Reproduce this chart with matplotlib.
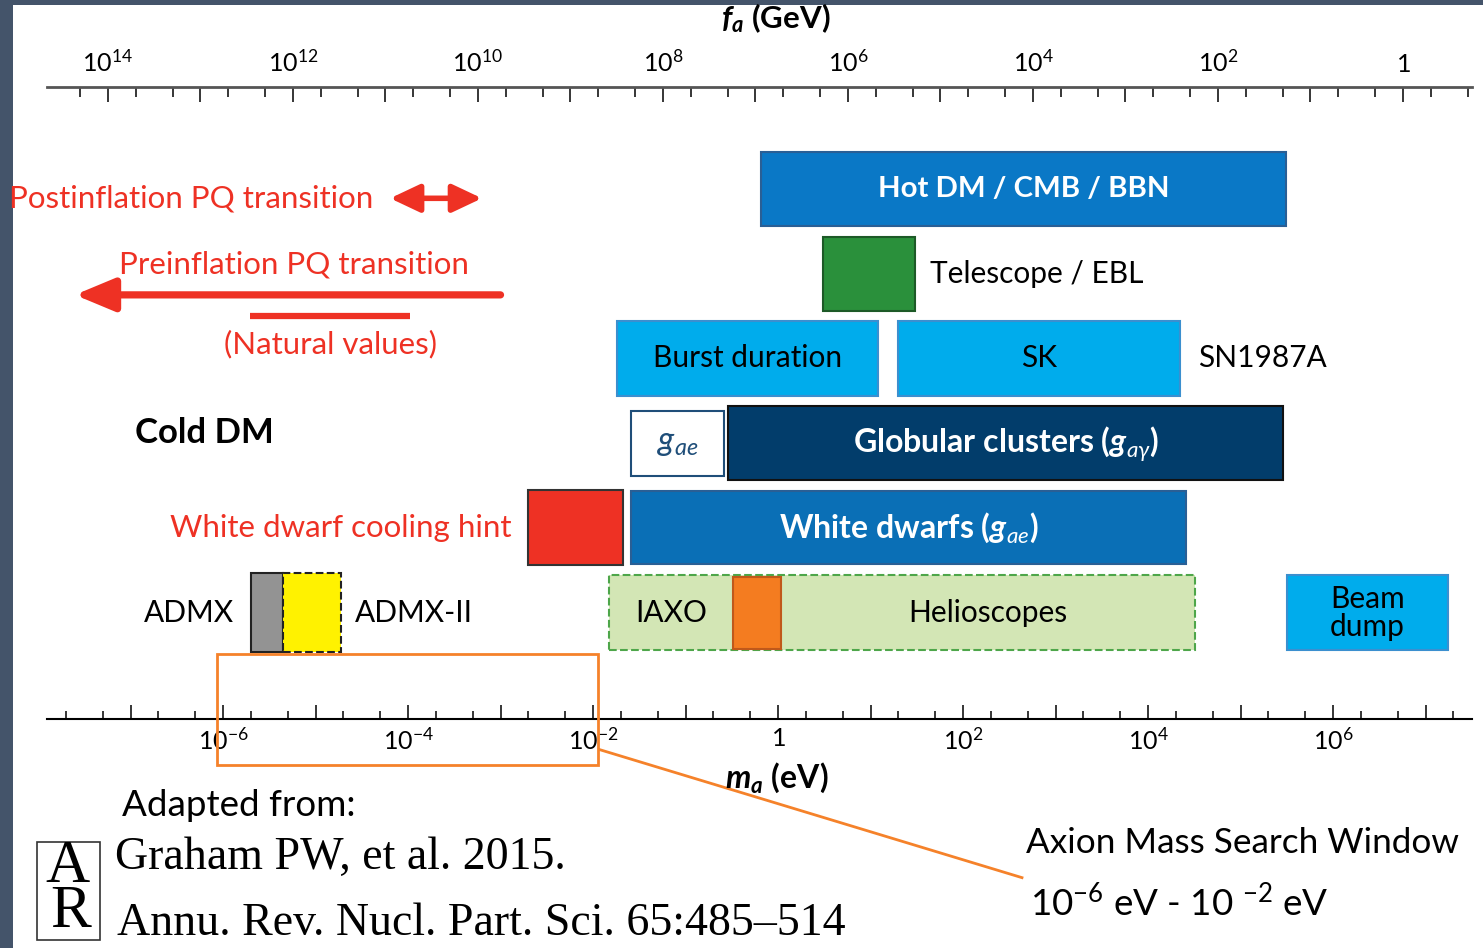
import numpy as np
import matplotlib.pyplot as plt
from matplotlib.patches import Rectangle, FancyArrowPatch
from matplotlib.ticker import (LogLocator, FixedLocator, FuncFormatter,
                               NullFormatter)

W, H = 1483, 948
FA_CONST = 5.7e6  # f_a [GeV] * m_a [eV]

plt.rcParams['font.family'] = ['Lato', 'DejaVu Sans']
plt.rcParams['mathtext.fontset'] = 'custom'
plt.rcParams['mathtext.rm'] = 'Lato'
plt.rcParams['mathtext.it'] = 'Lato:italic'
plt.rcParams['mathtext.bf'] = 'Lato:bold'
plt.rcParams['mathtext.bfit'] = 'Lato:bold:italic'

# constraint bands (axion mass in eV), row 0 = bottom
names = ['hot', 'telescope', 'burst', 'sk', 'gae', 'gc', 'wdhint', 'wd',
         'admx', 'admx2', 'helio', 'iaxo', 'beam']
m_lo = [0.65, 3.1, 1.8e-2, 20, 2.6e-2, 0.29, 2.0e-3, 2.6e-2,
        2.0e-6, 4.4e-6, 1.5e-2, 0.33, 3.2e5]
m_hi = [3.1e5, 30, 12, 2.2e4, 0.26, 2.9e5, 2.1e-2, 2.6e4,
        4.4e-6, 1.9e-5, 3.2e4, 1.08, 1.75e7]
rows = [5, 4, 3, 3, 2, 2, 1, 1, 0, 0, 0, 0, 0]

# PQ transition arrows / line (eV)
post_pq = [6.4e-5, 6.3e-4]
pre_pq = [1.0e-3, 2.5e-8]
natural = [1.95e-6, 1.05e-4]
search_window = [8.6e-7, 1.13e-2]

# top axis decades (GeV)
fa_decades = 10.0 ** np.arange(0, 15)

style = {
    'hot':       dict(fc='#0a78c6', ec='#2a5f95', h=0.874, ls='-'),
    'telescope': dict(fc='#2a903b', ec='#1d5a27', h=0.874, ls='-'),
    'burst':     dict(fc='#00acec', ec='#3b8fcf', h=0.885, ls='-'),
    'sk':        dict(fc='#00acec', ec='#3b8fcf', h=0.885, ls='-'),
    'gae':       dict(fc='white', ec='#1f4e79', h=0.767, ls='-'),
    'gc':        dict(fc='#023d6b', ec='#111111', h=0.874, ls='-'),
    'wdhint':    dict(fc='#ee3124', ec='#333333', h=0.885, ls='-'),
    'wd':        dict(fc='#0a6fb6', ec='#2a5f95', h=0.862, ls='-'),
    'admx':      dict(fc='#939393', ec='#222222', h=0.933, ls='-'),
    'admx2':     dict(fc='#fff200', ec='#222222', h=0.933, ls='--'),
    'helio':     dict(fc='#d3e6b5', ec='#4ea64a', h=0.885, ls='--'),
    'iaxo':      dict(fc='#f47c20', ec='#c0581a', h=0.85, ls='-'),
    'beam':      dict(fc='#00acec', ec='#3b8fcf', h=0.885, ls='-'),
}

RED = '#ee3124'
ORANGE = '#f5822a'


def fx(x):
    return x / W


def fy(y):
    return 1 - y / H


def m_to_f(m):
    m = np.asarray(m, dtype=float)
    with np.errstate(divide='ignore', invalid='ignore'):
        return FA_CONST / m


fig = plt.figure(figsize=(W / 100, H / 100), dpi=100, facecolor='#44546a')
fig.add_artist(Rectangle((fx(13), 0), 1, fy(5), transform=fig.transFigure,
                         facecolor='white', edgecolor='none', zorder=-5))

ax = fig.add_axes([fx(47), fy(719), fx(1472) - fx(47), fy(87) - fy(719)])
ax.set_facecolor('none')
ax.set_xscale('log')
ax.set_xlim(1.25e-8, 3.18e7)
ax.set_ylim(-1.257, 6.204)
for s in ['left', 'right', 'top']:
    ax.spines[s].set_visible(False)
ax.spines['bottom'].set_linewidth(1.5)
ax.set_yticks([])

dec_fmt = FuncFormatter(lambda v, p: ('$1$' if abs(np.log10(v)) < 0.01 else
                                      r'$10^{%d}$' % round(np.log10(v)))
                        if round(np.log10(v)) % 2 == 0 else '')

ax.xaxis.set_major_locator(FixedLocator(10.0 ** np.arange(-7, 8)))
ax.xaxis.set_minor_locator(LogLocator(base=10, subs=(2.0, 5.0), numticks=100))
ax.xaxis.set_major_formatter(dec_fmt)
ax.xaxis.set_minor_formatter(NullFormatter())
ax.tick_params(axis='x', which='major', direction='in', length=10, width=1.1,
               labelsize=18, pad=6)
ax.tick_params(axis='x', which='minor', direction='in', length=6, width=1.1)

sec = ax.secondary_xaxis('top', functions=(m_to_f, m_to_f))
sec.xaxis.set_major_locator(FixedLocator(fa_decades))
sec.xaxis.set_minor_locator(LogLocator(base=10, subs=(2.0, 5.0), numticks=100))
sec.xaxis.set_major_formatter(dec_fmt)
sec.xaxis.set_minor_formatter(NullFormatter())
sec.tick_params(axis='x', which='major', direction='in', length=11, width=1.1,
                labelsize=18, pad=8)
sec.tick_params(axis='x', which='minor', direction='in', length=7, width=1.1)
sec.spines['top'].set_linewidth(2)
sec.spines['top'].set_color('#555555')

# bands
for n, lo, hi, r in zip(names, m_lo, m_hi, rows):
    st = style[n]
    ax.barh(r, hi - lo, left=lo, height=st['h'], color=st['fc'],
            edgecolor=st['ec'], linestyle=st['ls'], linewidth=1.5, zorder=3)

d = dict(zip(names, zip(m_lo, m_hi, rows)))


def mid(n):
    lo, hi, r = d[n]
    return np.sqrt(lo * hi), r


bold_white = dict(color='white', fontweight='bold', ha='center', va='center',
                  zorder=5)
plain = dict(color='black', fontsize=21.5, va='center', zorder=5)
red = dict(color=RED, fontsize=22.5, va='center')

ax.text(*mid('hot'), 'Hot DM / CMB / BBN', fontsize=21.2, **bold_white)
ax.text(*mid('gc'), r'Globular clusters ($\mathbfit{g}_{a\gamma}$)',
        fontsize=23, **bold_white)
ax.text(*mid('wd'), r'White dwarfs ($\mathbfit{g}_{ae}$)', fontsize=23,
        **bold_white)
ax.text(*mid('burst'), 'Burst duration', ha='center', **plain)
ax.text(*mid('sk'), 'SK', ha='center', **plain)
ax.text(*mid('beam'), 'Beam\ndump', ha='center', linespacing=1.0, **plain)
ax.text(*mid('gae'), r'$g_{ae}$', ha='center', va='center', fontsize=24,
        color='#1f4e79', zorder=5)
ax.text(np.sqrt(d['helio'][0] * d['iaxo'][0]), 0, 'IAXO', ha='center', **plain)
ax.text(np.sqrt(d['iaxo'][1] * d['helio'][1]), 0, 'Helioscopes', ha='center',
        **plain)

ax.annotate('Telescope / EBL', (d['telescope'][1], 4), xytext=(11, 0),
            textcoords='offset points', ha='left', **plain)
ax.annotate('SN1987A', (d['sk'][1], 3), xytext=(13, 0),
            textcoords='offset points', ha='left', **plain)
ax.annotate('ADMX', (d['admx'][0], 0), xytext=(-12, 0),
            textcoords='offset points', ha='right', **plain)
ax.annotate('ADMX-II', (d['admx2'][1], 0), xytext=(10, 0),
            textcoords='offset points', ha='left', **plain)
ax.annotate('White dwarf cooling hint', (d['wdhint'][0], 1), xytext=(-12, 0),
            textcoords='offset points', ha='right', **red)

# PQ transition annotations
ax.add_patch(FancyArrowPatch((post_pq[0], 4.89), (post_pq[1], 4.89),
                             arrowstyle='<|-|>,head_length=1.8,head_width=0.85',
                             mutation_scale=10, lw=4, color=RED, zorder=4,
                             shrinkA=0, shrinkB=0))
ax.annotate('Postinflation PQ transition', (post_pq[0], 4.89), xytext=(-12, 0),
            textcoords='offset points', ha='right', **red)
ax.add_patch(FancyArrowPatch((pre_pq[0], 3.75), (pre_pq[1], 3.75),
                             arrowstyle='-|>,head_length=2.4,head_width=1.0',
                             mutation_scale=10, lw=5.2, color=RED, zorder=4,
                             shrinkA=0, shrinkB=0))
ax.text(5.9e-6, 4.11, 'Preinflation PQ transition', ha='center', **red)
ax.plot(natural, [3.5, 3.5], color=RED, lw=4.5, solid_capstyle='butt')
ax.text(1.44e-5, 3.17, '(Natural values)', ha='center', **red)
ax.text(1.12e-7, 2.12, 'Cold DM', ha='left', va='center', fontsize=25,
        fontweight='bold')

# search window highlight
lo, hi = search_window
ax.add_patch(Rectangle((lo, -1.80), hi - lo, 1.31, fill=False, ec=ORANGE,
                       lw=2, clip_on=False, zorder=6))
ax.plot([1.19e-2, 434], [-1.62, -3.13], color=ORANGE, lw=2, clip_on=False)

# axis titles
fig.text(fx(776), fy(18), r'$\mathbfit{f}_{\mathbfit{a}}$ (GeV)', ha='center',
         va='center', fontsize=22.5, fontweight='bold')
fig.text(fx(777), fy(778), r'$\mathbfit{m}_{\mathbfit{a}}$ (eV)', ha='center',
         va='center', fontsize=23, fontweight='bold')

# citation
fig.text(fx(122), fy(805), 'Adapted from:', ha='left', va='center',
         fontsize=26.5)
serif = ['Liberation Serif', 'DejaVu Serif']
fig.text(fx(115), fy(858), 'Graham PW, et al. 2015.', ha='left', va='center',
         fontsize=33, family=serif)
fig.text(fx(117), fy(924), 'Annu. Rev. Nucl. Part. Sci. 65:485\u2013514',
         ha='left', va='center', fontsize=33, family=serif)
fig.add_artist(Rectangle((fx(37), fy(940)), fx(100) - fx(37), fy(842) - fy(940),
                         transform=fig.transFigure, fill=False, ec='#333333',
                         lw=1.2))
fig.text(fx(67), fy(867), 'A', ha='center', va='center', fontsize=44,
         family=serif)
fig.text(fx(71), fy(912), 'R', ha='center', va='center', fontsize=44,
         family=serif)

fig.text(fx(1026), fy(843), 'Axion Mass Search Window', ha='left', va='center',
         fontsize=25.3)
fig.text(fx(1030), fy(903), r'10$^{-6}$ eV - 10 $^{-2}$ eV', ha='left',
         va='center', fontsize=26.5)

fig.savefig('out.png', dpi=100, facecolor=fig.get_facecolor())
